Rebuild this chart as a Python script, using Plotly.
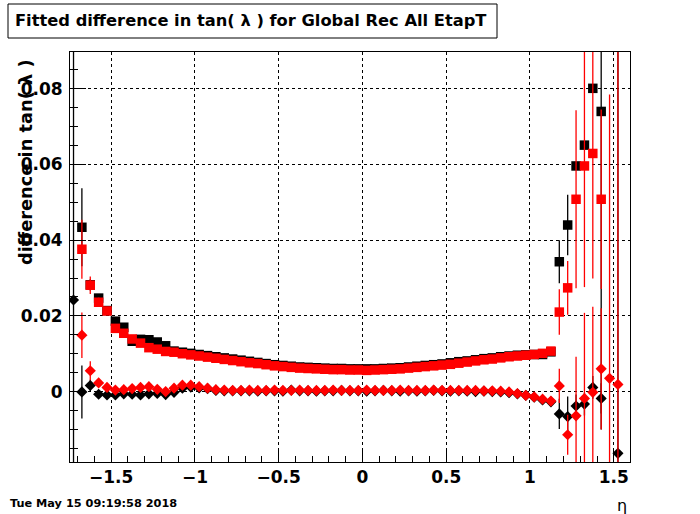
import plotly.graph_objects as go

# bin centres in eta
eta = [-1.725, -1.675, -1.625, -1.575, -1.525, -1.475, -1.425, -1.375, -1.325, -1.275,
       -1.225, -1.175, -1.125, -1.075, -1.025, -0.975, -0.925, -0.875, -0.825, -0.775,
       -0.725, -0.675, -0.625, -0.575, -0.525, -0.475, -0.425, -0.375, -0.325, -0.275,
       -0.225, -0.175, -0.125, -0.075, -0.025, 0.025, 0.075, 0.125, 0.175, 0.225,
       0.275, 0.325, 0.375, 0.425, 0.475, 0.525, 0.575, 0.625, 0.675, 0.725,
       0.775, 0.825, 0.875, 0.925, 0.975, 1.025, 1.075, 1.125, 1.175, 1.225,
       1.275, 1.325, 1.375, 1.425, 1.475, 1.525]

# black squares
black_sq = [None, 0.0434, 0.0282, 0.0247, 0.0214, 0.0186, 0.0170, 0.0133, 0.0138, 0.0137,
            0.0131, 0.0121, 0.0107, 0.0104, 0.0101, 0.0098, 0.0095, 0.0092, 0.0089, 0.0086,
            0.0083, 0.0080, 0.0077, 0.0074, 0.0071, 0.0069, 0.0067, 0.0065, 0.0064, 0.0063,
            0.0062, 0.0061, 0.0061, 0.0060, 0.0060, 0.0060, 0.0060, 0.0061, 0.0062, 0.0063,
            0.0065, 0.0067, 0.0069, 0.0071, 0.0073, 0.0076, 0.0079, 0.0081, 0.0084, 0.0087,
            0.0089, 0.0092, 0.0094, 0.0096, 0.0097, 0.0098, 0.0098, 0.0105, 0.0343, 0.0440,
            0.0596, 0.0651, 0.0801, 0.0740, None, None]
black_sq_err = [0, 0.0103, 0.0015, 0.0010, 0.0008, 0.0006, 0.0005, 0.0004, 0.0004, 0.0004,
                0.0003, 0.0003, 0.0003, 0.0003, 0.0003, 0.0003, 0.0003, 0.0003, 0.0003, 0.0003,
                0.0003, 0.0003, 0.0003, 0.0003, 0.0003, 0.0003, 0.0003, 0.0003, 0.0003, 0.0003,
                0.0003, 0.0003, 0.0003, 0.0003, 0.0003, 0.0003, 0.0003, 0.0003, 0.0003, 0.0003,
                0.0003, 0.0003, 0.0003, 0.0003, 0.0003, 0.0003, 0.0003, 0.0003, 0.0003, 0.0003,
                0.0003, 0.0003, 0.0003, 0.0003, 0.0003, 0.0003, 0.0004, 0.0005, 0.0057, 0.0080,
                0.0010, 0.0008, 0.0010, 0.0840, 0, 0]

# red squares
red_sq = [None, 0.0376, 0.0281, 0.0236, 0.0213, 0.0167, 0.0154, 0.0139, 0.0128, 0.0116,
          0.0112, 0.0106, 0.0104, 0.0100, 0.0097, 0.0094, 0.0091, 0.0088, 0.0085, 0.0082,
          0.0079, 0.0076, 0.0074, 0.0071, 0.0068, 0.0066, 0.0064, 0.0062, 0.0061, 0.0060,
          0.0059, 0.0058, 0.0058, 0.0057, 0.0057, 0.0056, 0.0057, 0.0058, 0.0059, 0.0060,
          0.0062, 0.0064, 0.0066, 0.0068, 0.0070, 0.0072, 0.0075, 0.0078, 0.0081, 0.0084,
          0.0086, 0.0089, 0.0092, 0.0094, 0.0096, 0.0098, 0.0101, 0.0107, 0.0210, 0.0274,
          0.0508, 0.0596, 0.0629, 0.0508, None, None]
red_sq_err = [0, 0.0078, 0.0023, 0.0012, 0.0008, 0.0006, 0.0005, 0.0004, 0.0004, 0.0004,
              0.0003, 0.0003, 0.0003, 0.0003, 0.0003, 0.0003, 0.0003, 0.0003, 0.0003, 0.0003,
              0.0003, 0.0003, 0.0003, 0.0003, 0.0003, 0.0003, 0.0003, 0.0003, 0.0003, 0.0003,
              0.0003, 0.0003, 0.0003, 0.0003, 0.0003, 0.0003, 0.0003, 0.0003, 0.0003, 0.0003,
              0.0003, 0.0003, 0.0003, 0.0003, 0.0003, 0.0003, 0.0003, 0.0003, 0.0003, 0.0003,
              0.0003, 0.0003, 0.0003, 0.0003, 0.0003, 0.0003, 0.0004, 0.0005, 0.0060, 0.0071,
              0.0235, 0.0320, 0.0330, 0.0237, 0, 0]

# black diamonds
black_dia = [0.0242, -0.0001, 0.0016, -0.0007, -0.0009, -0.0009, -0.0006, -0.0007, -0.0009, -0.0006,
             -0.0005, -0.0008, -0.0002, 0.0009, 0.0012, 0.0010, 0.0008, 0.0003, 0.0002, 0.0002,
             0.0002, 0.0002, 0.0001, 0.0002, 0.0002, 0.0001, 0.0004, 0.0002, 0.0002, 0.0001,
             0.0002, 0.0002, 0.0003, 0.0002, 0.0002, 0.0001, 0.0002, 0.0003, 0.0002, 0.0001,
             0.0002, 0.0001, 0.0002, 0.0003, 0.0002, 0.0001, 0.0002, 0.0001, 0.0000, 0.0001,
             0.0000, -0.0001, -0.0003, -0.0006, -0.0010, -0.0015, -0.0022, -0.0027, -0.0059, -0.0066,
             -0.0038, -0.0033, 0.0011, -0.0018, None, -0.0163]
black_dia_err = [0.2000, 0.0070, 0.0015, 0.0006, 0.0005, 0.0004, 0.0004, 0.0004, 0.0004, 0.0004,
                 0.0003, 0.0003, 0.0003, 0.0003, 0.0003, 0.0003, 0.0003, 0.0003, 0.0003, 0.0003,
                 0.0003, 0.0003, 0.0003, 0.0003, 0.0003, 0.0003, 0.0003, 0.0003, 0.0003, 0.0003,
                 0.0003, 0.0003, 0.0003, 0.0003, 0.0003, 0.0003, 0.0003, 0.0003, 0.0003, 0.0003,
                 0.0003, 0.0003, 0.0003, 0.0003, 0.0003, 0.0003, 0.0003, 0.0003, 0.0003, 0.0003,
                 0.0003, 0.0003, 0.0003, 0.0003, 0.0004, 0.0004, 0.0005, 0.0006, 0.0040, 0.0053,
                 0.0030, 0.0030, 0.0030, 0.0040, 0, 0.2000]

# red diamonds
red_dia = [None, 0.0149, 0.0055, 0.0023, 0.0011, 0.0004, 0.0005, 0.0008, 0.0011, 0.0013,
           0.0006, 0.0000, 0.0009, 0.0017, 0.0017, 0.0013, 0.0009, 0.0005, 0.0004, 0.0003,
           0.0003, 0.0004, 0.0003, 0.0003, 0.0004, 0.0003, 0.0003, 0.0004, 0.0003, 0.0003,
           0.0003, 0.0004, 0.0003, 0.0003, 0.0003, 0.0004, 0.0003, 0.0003, 0.0003, 0.0004,
           0.0003, 0.0003, 0.0003, 0.0004, 0.0003, 0.0003, 0.0003, 0.0003, 0.0003, 0.0002,
           0.0002, 0.0001, -0.0001, -0.0005, -0.0010, -0.0014, -0.0020, -0.0025, 0.0015, -0.0114,
           -0.0064, -0.0018, -0.0002, 0.0060, 0.0035, 0.0019]
red_dia_err = [0, 0.0060, 0.0025, 0.0010, 0.0006, 0.0005, 0.0004, 0.0004, 0.0004, 0.0004,
               0.0003, 0.0003, 0.0003, 0.0003, 0.0003, 0.0003, 0.0003, 0.0003, 0.0003, 0.0003,
               0.0003, 0.0003, 0.0003, 0.0003, 0.0003, 0.0003, 0.0003, 0.0003, 0.0003, 0.0003,
               0.0003, 0.0003, 0.0003, 0.0003, 0.0003, 0.0003, 0.0003, 0.0003, 0.0003, 0.0003,
               0.0003, 0.0003, 0.0003, 0.0003, 0.0003, 0.0003, 0.0003, 0.0003, 0.0003, 0.0003,
               0.0003, 0.0003, 0.0003, 0.0003, 0.0004, 0.0004, 0.0005, 0.0006, 0.0045, 0.0053,
               0.0156, 0.0226, 0.0226, 0.0160, 0.0750, 0.2000]

title_text = "Fitted difference in tan( \u03bb ) for Global Rec All EtapT"
y_title = "difference in tan( \u03bb )"
x_title = "\u03b7"
date_text = "Tue May 15 09:19:58 2018"

FONT = "DejaVu Sans"
W, H = 700, 514
L, R, T, B = 70, 70, 52, 52
PW, PH = W - L - R, H - T - B


def px(x):
    return (x - L) / PW


def py(y):
    return (H - B - y) / PH


def series(y, err, color, symbol, size):
    return go.Scatter(
        x=eta, y=y, mode="markers",
        marker=dict(color=color, symbol=symbol, size=size, line=dict(width=0)),
        error_y=dict(type="data", array=err, visible=True, color=color,
                     thickness=1.3, width=0),
        showlegend=False, cliponaxis=True,
    )


fig = go.Figure()
fig.add_trace(series(black_sq, black_sq_err, "black", "square", 9.5))
fig.add_trace(series(red_sq, red_sq_err, "#ff0000", "square", 9.5))
fig.add_trace(series(black_dia, black_dia_err, "black", "diamond", 8.6))
fig.add_trace(series(red_dia, red_dia_err, "#ff0000", "diamond", 8.6))

axis_common = dict(
    showline=True, linecolor="black", linewidth=1, mirror=True,
    ticks="inside", tickcolor="black", tickwidth=1,
    showgrid=True, gridcolor="black", griddash="dot", gridwidth=1,
    zeroline=False,
    tickfont=dict(family=FONT, size=17, color="black", weight="bold"),
)

fig.update_layout(
    width=W, height=H,
    margin=dict(l=L, r=R, t=T, b=B),
    paper_bgcolor="white", plot_bgcolor="white",
    font=dict(family=FONT, color="black"),
    xaxis=dict(range=[-1.746, 1.597], tick0=0, dtick=0.5, ticklen=12,
               minor=dict(dtick=0.1, ticks="inside", ticklen=6, tickcolor="black", showgrid=False),
               **axis_common),
    yaxis=dict(range=[-0.0186, 0.0897], tick0=0, dtick=0.02, ticklen=16,
               ticklabelstandoff=3,
               minor=dict(dtick=0.005, ticks="inside", ticklen=8, tickcolor="black", showgrid=False),
               **axis_common),
    shapes=[dict(type="rect", xref="paper", yref="paper",
                 x0=px(8), x1=px(497), y0=py(38), y1=py(4),
                 line=dict(color="black", width=1), fillcolor="white")],
    annotations=[
        dict(text=title_text, xref="paper", yref="paper", x=px(13), y=py(21),
             xanchor="left", yanchor="middle", showarrow=False,
             font=dict(family=FONT, size=16.3, color="black", weight="bold")),
        dict(text=y_title, xref="paper", yref="paper", x=px(25), y=py(162),
             xanchor="center", yanchor="middle", textangle=-90, showarrow=False,
             font=dict(family=FONT, size=17.8, color="black", weight="bold")),
        dict(text=x_title, xref="paper", yref="paper", x=px(622), y=py(505),
             xanchor="center", yanchor="middle", showarrow=False,
             font=dict(family=FONT, size=16, color="black")),
        dict(text=date_text, xref="paper", yref="paper", x=px(8), y=py(503),
             xanchor="left", yanchor="middle", showarrow=False,
             font=dict(family=FONT, size=11.3, color="black", weight="bold")),
    ],
)

fig.write_html("out.html", config={"displayModeBar": False},
               post_script="document.body.style.margin='0';")
